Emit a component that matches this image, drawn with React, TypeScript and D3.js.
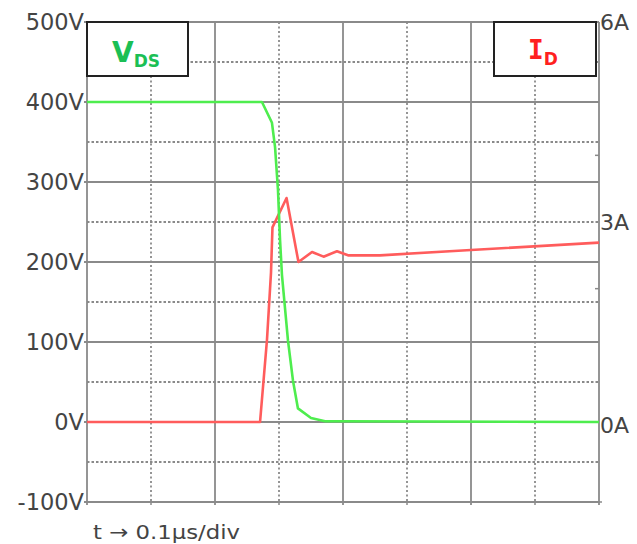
import React from "react";
import * as d3 from "d3";

const voltTicks = [500, 400, 300, 200, 100, 0, -100];
const ampLabels = [6, 3, 0];
const ampMinorTicks = [4, 2];
const majorDivs = [0, 1, 2, 3, 4];
const minorDivs = [0.5, 1.5, 2.5, 3.5];
const halfVolts = [450, 350, 250, 150, 50, -50];

const vdsTime = [0, 1.367, 1.445, 1.469, 1.492, 1.508, 1.523, 1.57, 1.609, 1.648, 1.75, 1.86, 2.0, 4.0];
const vdsValues = [400, 400, 374, 344, 290, 228, 184, 102, 52, 17, 5, 1, 1, 0];

const idTime = [0, 1.352, 1.406, 1.4375, 1.449, 1.559, 1.652, 1.758, 1.848, 1.953, 2.039, 2.289, 3.0, 4.0];
const idValues = [0, 0, 1.23, 2.24, 2.92, 3.36, 2.4, 2.55, 2.48, 2.56, 2.5, 2.5, 2.58, 2.69];

const W = 637;
const H = 544;
const L = 87, R = 599, T = 22, B = 502;

export default function App() {
  const x = d3.scaleLinear().domain([0, 4]).range([L, R]);
  const yV = d3.scaleLinear().domain([-100, 500]).range([B, T]);
  const yI = d3.scaleLinear().domain([0, 6]).range([yV(0), T]);

  const vLine = d3
    .line<number>()
    .x((_, i) => x(vdsTime[i]))
    .y((d) => yV(d));
  const iLine = d3
    .line<number>()
    .x((_, i) => x(idTime[i]))
    .y((d) => yI(d));

  const gridColor = "#8a8a8a";
  const dotColor = "#8a8a8a";
  const textColor = "#444";
  const font = "'DejaVu Sans', Verdana, sans-serif";

  return (
    <svg
      width={W}
      height={H}
      style={{ position: "absolute", left: 0, top: 0, background: "#fff" }}
    >
      <rect x={0} y={0} width={W} height={H} fill="#fff" />
      {minorDivs.map((d) => (
        <line
          key={"mv" + d}
          x1={x(d)}
          x2={x(d)}
          y1={T}
          y2={B}
          stroke={dotColor}
          strokeWidth={1.8}
          strokeDasharray="2,2.5"
        />
      ))}
      {halfVolts.map((v) => (
        <line
          key={"mh" + v}
          x1={L}
          x2={R}
          y1={yV(v)}
          y2={yV(v)}
          stroke={dotColor}
          strokeWidth={1.8}
          strokeDasharray="2.5,2"
        />
      ))}
      {majorDivs.map((d) => (
        <line
          key={"v" + d}
          x1={x(d)}
          x2={x(d)}
          y1={T}
          y2={B + 3}
          stroke={gridColor}
          strokeWidth={1.8}
        />
      ))}
      {minorDivs.map((d) => (
        <line
          key={"bt" + d}
          x1={x(d)}
          x2={x(d)}
          y1={B}
          y2={B + 3}
          stroke={gridColor}
          strokeWidth={1.5}
        />
      ))}
      {voltTicks.map((v) => (
        <line
          key={"h" + v}
          x1={L - 3}
          x2={R}
          y1={yV(v)}
          y2={yV(v)}
          stroke={gridColor}
          strokeWidth={1.8}
        />
      ))}
      <line x1={R} x2={R + 3} y1={B} y2={B} stroke={gridColor} strokeWidth={1.5} />
      {ampMinorTicks.map((a) => (
        <line
          key={"at" + a}
          x1={R - 4}
          x2={R}
          y1={yI(a)}
          y2={yI(a)}
          stroke={gridColor}
          strokeWidth={1.5}
        />
      ))}
      {voltTicks.map((v) => (
        <text
          key={"vl" + v}
          x={L - 3}
          y={yV(v)}
          dy="0.36em"
          textAnchor="end"
          fontFamily={font}
          fontSize={22.5}
          fill={textColor}
        >
          {`${v}V`}
        </text>
      ))}
      {ampLabels.map((a) => (
        <text
          key={"al" + a}
          x={R + 1}
          y={yI(a) + (a === 0 ? 3 : 0)}
          dy="0.36em"
          textAnchor="start"
          fontFamily={font}
          fontSize={22}
          fill={textColor}
        >
          {`${a}A`}
        </text>
      ))}
      <text
        x={93}
        y={539}
        fontFamily={font}
        fontSize={20}
        fill={textColor}
        textLength={147}
        lengthAdjust="spacingAndGlyphs"
      >
        t → 0.1µs/div
      </text>
      <path d={iLine(idValues) || ""} fill="none" stroke="#ff5c5c" strokeWidth={2.6} strokeLinejoin="round" />
      <path d={vLine(vdsValues) || ""} fill="none" stroke="#4eed4e" strokeWidth={2.6} strokeLinejoin="round" />
      <rect x={L} y={T} width={101} height={54} fill="#fff" stroke="#222" strokeWidth={2} />
      <text x={112} y={62} fontFamily={font} fontWeight="bold" fontSize={28} fill="#1bbf55">
        V
        <tspan fontSize={17} dy={5}>DS</tspan>
      </text>
      <rect x={494} y={T} width={102} height={54} fill="#fff" stroke="#222" strokeWidth={2} />
      <text x={528} y={59} fontFamily="'DejaVu Sans Mono', monospace" fontWeight="bold" fontSize={26} fill="#ff2020">
        I
        <tspan fontFamily={font} fontSize={17} dy={6}>D</tspan>
      </text>
    </svg>
  );
}
